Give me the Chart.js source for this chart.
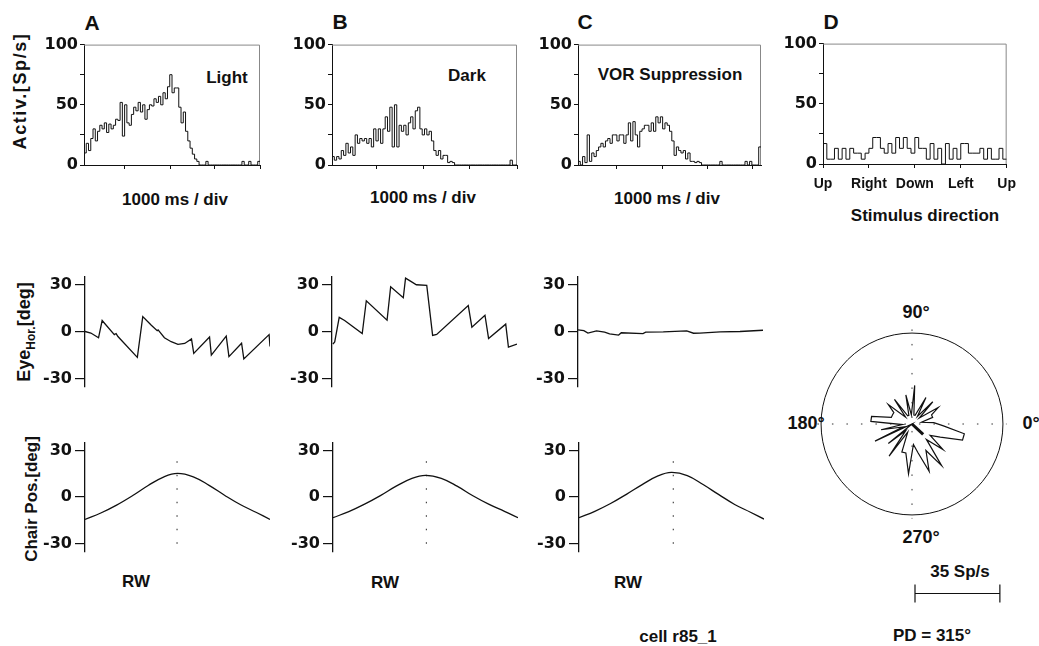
<!DOCTYPE html>
<html>
<head>
<meta charset="utf-8">
<title>cell r85_1</title>
<script src="https://cdn.jsdelivr.net/npm/chart.js@4.4.1/dist/chart.umd.min.js"></script>
<style>
  body { margin: 0; width: 1039px; height: 646px; background: #fff; position: relative; overflow: hidden; }
  canvas { position: absolute; }
  .lbl { position: absolute; transform: translate(-50%, -50%); font-family: 'Liberation Sans', Arial, sans-serif;
         font-weight: bold; font-size: 17px; line-height: 1; color: #111; white-space: nowrap; }
  .rot { transform: translate(-50%, -50%) rotate(-90deg); }
  .letter { font-size: 21px; }
  .deg { font-size: 18px; }
</style>
</head>
<body>
<div class="lbl letter" style="left:92px;top:22px">A</div>
<div class="lbl letter" style="left:340px;top:21px">B</div>
<div class="lbl letter" style="left:585px;top:21px">C</div>
<div class="lbl letter" style="left:831px;top:21px">D</div>

<div class="lbl" style="left:227px;top:77px">Light</div>
<div class="lbl" style="left:467px;top:75px">Dark</div>
<div class="lbl" style="left:670px;top:74px">VOR Suppression</div>

<div class="lbl" style="left:175px;top:199px">1000 ms / div</div>
<div class="lbl" style="left:423px;top:197px">1000 ms / div</div>
<div class="lbl" style="left:667px;top:198px">1000 ms / div</div>
<div class="lbl" style="left:925px;top:215px">Stimulus direction</div>

<div class="lbl rot" style="left:20px;top:91px;font-size:18px;letter-spacing:1.6px">Activ.[Sp/s]</div>
<div class="lbl rot" style="left:26px;top:332px;font-size:18px">Eye<sub style="font-size:12px">Hor.</sub>[deg]</div>
<div class="lbl rot" style="left:31px;top:499px">Chair Pos.[deg]</div>

<div class="lbl" style="left:136px;top:581px">RW</div>
<div class="lbl" style="left:385px;top:582px">RW</div>
<div class="lbl" style="left:628px;top:582px">RW</div>
<div class="lbl" style="left:678px;top:636px">cell r85_1</div>

<div class="lbl deg" style="left:916px;top:312px">90°</div>
<div class="lbl deg" style="left:806px;top:423px">180°</div>
<div class="lbl deg" style="left:1031px;top:423px">0°</div>
<div class="lbl deg" style="left:921px;top:537px">270°</div>
<div class="lbl" style="left:960px;top:571px">35 Sp/s</div>
<div class="lbl" style="left:932px;top:635px">PD = 315°</div>

<script>
// ---- data ----
const binWidth = 0.05;             // s per histogram bin
const rateTicks = [0, 25, 50, 75, 100];
const rateLabels = ['0', '50', '100'];
const degTicks = [-30, 0, 30];

const histLight = [10, 18, 12, 22, 30, 20, 28, 33, 30, 35, 27,
  34, 30, 33, 38, 37, 52, 24, 50, 35, 33,
  42, 48, 45, 52, 44, 50, 38, 46, 50, 49,
  55, 52, 57, 50, 60, 55, 65, 75, 60, 64,
  64, 48, 35, 44, 28, 20, 14, 9, 5, 3,
  0, 0, 0, 3, 0, 0, 0, 0, 0, 0, 0, 0, 0, 0, 0, 0, 0, 0, 0,
  3, 0, 0, 3, 0, 0, 0, 3];
const histDark = [7, 4, 7, 5, 12, 8, 18, 10, 15, 8,
  25, 18, 22, 20, 22, 18, 22, 15, 30, 20,
  30, 18, 30, 40, 28, 48, 15, 50, 15, 33,
  28, 33, 25, 35, 40, 30, 45, 48, 30, 25,
  30, 25, 28, 20, 12, 8, 12, 5, 8, 8,
  2, 3, 2, 0, 0, 0, 0, 0, 0, 0,
  0, 0, 0, 0, 0, 0, 0, 0, 0, 0,
  0, 0, 0, 0, 0, 0, 0, 4, 0, 0];
const histVor = [3, 0, 7, 2, 25, 3, 10, 7, 12, 15,
  18, 15, 20, 22, 18, 25, 25, 20, 25, 25,
  18, 25, 35, 20, 36, 25, 15, 28, 30, 33,
  33, 28, 35, 28, 40, 35, 40, 30, 35, 33,
  28, 20, 8, 15, 12, 10, 12, 5, 10, 3,
  3, 2, 3, 2, 0, 0, 0, 0, 0, 0,
  0, 0, 3, 0, 0, 0, 0, 0, 0, 0,
  0, 0, 0, 3, 0, 3, 0, 0, 0, 15];

const dirBinWidth = 7.5;           // deg per bin, Up -> Right -> Down -> Left -> Up
const dirTicks = [0, 90, 180, 270, 360];
const dirLabels = ['Up', 'Right', 'Down', 'Left', 'Up'];
const histDirection = [17, 4, 4, 13, 4, 13, 4, 13, 9, 9,
  4, 9, 13, 22, 22, 13, 9, 17, 9, 22,
  13, 22, 13, 9, 22, 13, 13, 4, 17, 4,
  13, 0, 17, 4, 13, 4, 17, 17, 9, 9,
  9, 13, 4, 13, 4, 4, 13, 4];

const eyeLightT = [0, 0.13, 0.30, 0.38, 0.65, 0.69, 0.73, 1.16, 1.28, 1.47, 1.60, 1.62, 1.76, 1.91,
  2.06, 2.21, 2.36, 2.41, 2.76, 2.80, 3.13, 3.19, 3.47, 3.52, 4.08, 4.10];
const eyeLight = [0, -1, -4, 7, -2, -1.3, -3.2, -16.5, 9.5, 4, 0.5, 1, -4, -6.5,
  -8.2, -7.6, -4.7, -14, -3.5, -15, -3, -16, -7.5, -17.5, -2, -9.5];
const eyeDarkT = [0.02, 0.06, 0.16, 0.28, 0.67, 0.76, 1.22, 1.30, 1.58, 1.63, 1.73, 1.87, 2.10,
  2.23, 2.32, 3.02, 3.10, 3.39, 3.47, 3.85, 3.91, 4.10];
const eyeDark = [-8, -6.6, 9, 7, -1.3, 19.6, 7.2, 28.5, 21.5, 34, 32.3, 29.8, 29.4,
  -2.5, -1.9, 16.5, 2.8, 10.4, -4.4, 4.7, -9.9, -8];
const eyeVorT = [0, 0.13, 0.22, 0.41, 0.59, 0.70, 0.90, 0.96, 1.44, 1.50, 1.89, 2.41, 2.56, 2.70, 3.15, 3.59, 4.10];
const eyeVor = [1, 0.5, -1, 0.4, -0.4, -1.5, -2.3, -0.8, -1.3, -0.4, -0.2, 0.4, -1.1, -1, -0.2, 0, 0.8];

const chairT = [0, 0.35, 0.7, 1.05, 1.4, 1.75, 2.05, 2.4, 2.75, 3.1, 3.45, 3.8, 4.1];
const chairLight = [-14.4, -10.3, -5.2, 0.8, 7.4, 13.0, 15.2, 13.0, 7.5, 1.0, -5.0, -10.0, -14.4];
const chairDark = [-13.3, -9.4, -4.6, 0.9, 7.0, 12.0, 13.9, 12.0, 7.0, 0.8, -4.6, -9.2, -13.3];
const chairVor = [-13.3, -9.2, -4.2, 1.7, 8.0, 13.6, 15.8, 13.8, 8.0, 1.5, -4.8, -9.8, -14.2];
const rwTimes = [2.04, 2.07, 2.09];

const polarMax = 37.5;             // Sp/s at the circle
const scaleBar = 35;               // Sp/s
const pdAngle = 315;
const pdLength = 6.5;

// ---- drawing ----
const ink = '#111';
const tickFont = { family: 'DejaVu Sans', weight: 'bold', size: 16 };

function addCanvas(area, pad) {
  const c = document.createElement('canvas');
  c.width = area.w + pad.l + pad.r;
  c.height = area.h + pad.t + pad.b;
  c.style.left = (area.x - pad.l) + 'px';
  c.style.top = (area.y - pad.t) + 'px';
  document.body.appendChild(c);
  return c;
}

function baseOptions(pad, bottom) {
  return {
    responsive: false,
    animation: false,
    events: [],
    layout: { autoPadding: false, padding: { left: 0, right: pad.r, top: pad.t, bottom: bottom } },
    plugins: { legend: { display: false }, tooltip: { enabled: false } }
  };
}

// thin grey top and right edge of the histogram boxes
const frame = {
  id: 'frame',
  beforeDatasetsDraw(chart) {
    const { ctx, chartArea: a } = chart;
    ctx.save();
    ctx.strokeStyle = '#888';
    ctx.lineWidth = 1;
    ctx.beginPath();
    ctx.moveTo(a.left, a.top + 0.5);
    ctx.lineTo(a.right - 0.5, a.top + 0.5);
    ctx.lineTo(a.right - 0.5, a.bottom);
    ctx.stroke();
    ctx.restore();
  }
};

function rateAxis(pad) {
  return {
    min: 0, max: 100,
    afterBuildTicks: s => { s.ticks = rateTicks.map(v => ({ value: v })); },
    afterFit: s => { s.width = pad.l; },
    grid: { drawOnChartArea: false, tickLength: 4, color: ink },
    border: { color: ink },
    ticks: { padding: 2, color: ink, font: tickFont, callback: v => rateLabels.includes(String(v)) ? String(v) : '' }
  };
}

function histogram(area, values, binW, xMax, xTicks, xLabels) {
  const pad = { l: 50, r: xLabels ? 14 : 6, t: 10, b: xLabels ? 40 : 12 };
  const pts = values.map((v, i) => ({ x: i * binW, y: v }));
  pts.push({ x: values.length * binW, y: values[values.length - 1] });
  const opts = baseOptions(pad, 0);
  opts.scales = {
    x: {
      type: 'linear', min: 0, max: xMax,
      afterBuildTicks: s => { s.ticks = xTicks.map(v => ({ value: v })); },
      afterFit: s => { s.height = pad.b; },
      grid: { drawOnChartArea: false, tickLength: 4, color: ink },
      border: { color: ink },
      ticks: xLabels
        ? { padding: 8, color: ink, autoSkip: false, maxRotation: 0,
            font: { family: 'Liberation Sans', weight: 'bold', size: 14 },
            callback: (v, i) => xLabels[i] }
        : { display: false }
    },
    y: rateAxis(pad)
  };
  return new Chart(addCanvas(area, pad), {
    type: 'line',
    data: { datasets: [{ data: pts, stepped: 'before', borderColor: ink, borderWidth: 1, pointRadius: 0 }] },
    options: opts,
    plugins: [frame]
  });
}

function trace(area, times, values, rw) {
  const pad = { l: 55, r: 6, t: 6, b: 6 };
  const smooth = rw !== undefined;
  const datasets = [{
    data: times.map((t, i) => ({ x: t, y: values[i] })),
    borderColor: ink, borderWidth: 1.3, pointRadius: 0,
    tension: smooth ? 0.4 : 0
  }];
  if (smooth) {
    datasets.push({
      data: [{ x: rw, y: degTicks[0] }, { x: rw, y: degTicks[degTicks.length - 1] }],
      borderColor: '#444', borderWidth: 1.2, borderDash: [1.5, 12], pointRadius: 0
    });
  }
  const opts = baseOptions(pad, pad.b);
  opts.scales = {
    x: { type: 'linear', display: false, min: 0, max: 4.1 },
    y: {
      min: -35, max: 35,
      afterBuildTicks: s => { s.ticks = degTicks.map(v => ({ value: v })); },
      afterFit: s => { s.width = pad.l; },
      grid: { drawOnChartArea: false, tickLength: 10, color: ink, lineWidth: 1.2 },
      border: { color: ink, width: 1.3 },
      ticks: { padding: 3, color: ink, font: tickFont }
    }
  };
  return new Chart(addCanvas(area, pad), { type: 'line', data: { datasets }, options: opts });
}

// circle, dotted cross and the 35 Sp/s bar of the polar plot
const polarFrame = {
  id: 'polarFrame',
  beforeDatasetsDraw(chart) {
    const { ctx, scales: { x, y } } = chart;
    const cx = x.getPixelForValue(0), cy = y.getPixelForValue(0);
    const r = x.getPixelForValue(polarMax) - cx;
    ctx.save();
    ctx.strokeStyle = ink;
    ctx.lineWidth = 1;
    ctx.beginPath();
    ctx.arc(cx, cy, r, 0, 2 * Math.PI);
    ctx.stroke();
    ctx.setLineDash([1.5, 13]);
    ctx.strokeStyle = '#333';
    const e = r * 1.04;
    ctx.beginPath();
    ctx.moveTo(cx - e, cy); ctx.lineTo(cx + e, cy);
    ctx.moveTo(cx, cy - e); ctx.lineTo(cx, cy + e);
    ctx.stroke();
    ctx.restore();
  },
  afterDraw(chart) {
    const { ctx, scales: { x, y } } = chart;
    const cx = x.getPixelForValue(0), cy = y.getPixelForValue(0);
    const len = x.getPixelForValue(scaleBar) - cx;
    const x1 = cx + 3, yb = cy + 169.5;
    ctx.save();
    ctx.strokeStyle = ink;
    ctx.lineWidth = 1.2;
    ctx.beginPath();
    ctx.moveTo(x1, yb); ctx.lineTo(x1 + len, yb);
    ctx.moveTo(x1, yb - 9); ctx.lineTo(x1, yb + 9);
    ctx.moveTo(x1 + len, yb - 9); ctx.lineTo(x1 + len, yb + 9);
    ctx.stroke();
    ctx.restore();
  }
};

function polar(area) {
  const pad = { l: 12, r: 12, t: 12, b: 110 };
  // star outline through the bin centres of the direction histogram
  const outline = histDirection.map((r, i) => {
    const a = (90 - (i + 0.5) * dirBinWidth) * Math.PI / 180;
    return { x: r * Math.cos(a), y: r * Math.sin(a) };
  });
  outline.push(outline[0]);
  const pa = pdAngle * Math.PI / 180;
  const opts = baseOptions(pad, pad.b);
  opts.scales = {
    x: { type: 'linear', display: false, min: -40, max: 40 },
    y: { type: 'linear', display: false, min: -40, max: 40 }
  };
  return new Chart(addCanvas(area, pad), {
    type: 'scatter',
    data: {
      datasets: [
        { data: outline, showLine: true, borderColor: ink, borderWidth: 1.2, pointRadius: 0 },
        { data: [{ x: 0, y: 0 }, { x: pdLength * Math.cos(pa), y: pdLength * Math.sin(pa) }],
          showLine: true, borderColor: ink, borderWidth: 3, pointRadius: 0 }
      ]
    },
    options: opts,
    plugins: [polarFrame]
  });
}

histogram({ x: 84, y: 43, w: 176, h: 122 }, histLight, binWidth, 3.9, [0.89, 1.91, 2.9, 3.9]);
histogram({ x: 332, y: 43, w: 185, h: 122 }, histDark, binWidth, 4.0, [0.97, 1.98, 2.98, 4.0]);
histogram({ x: 578, y: 43, w: 183, h: 122 }, histVor, binWidth, 4.0, [0.84, 1.84, 2.84, 3.82]);
histogram({ x: 823, y: 42, w: 187, h: 122 }, histDirection, dirBinWidth, 360, dirTicks, dirLabels);

trace({ x: 85, y: 270, w: 185, h: 123 }, eyeLightT, eyeLight);
trace({ x: 332, y: 270, w: 185, h: 123 }, eyeDarkT, eyeDark);
trace({ x: 578, y: 270, w: 185, h: 123 }, eyeVorT, eyeVor);

trace({ x: 85, y: 436, w: 185, h: 122 }, chairT, chairLight, rwTimes[0]);
trace({ x: 333, y: 436, w: 185, h: 122 }, chairT, chairDark, rwTimes[1]);
trace({ x: 579, y: 436, w: 185, h: 122 }, chairT, chairVor, rwTimes[2]);

polar({ x: 827, y: 333, w: 182, h: 182 });
</script>
</body>
</html>
